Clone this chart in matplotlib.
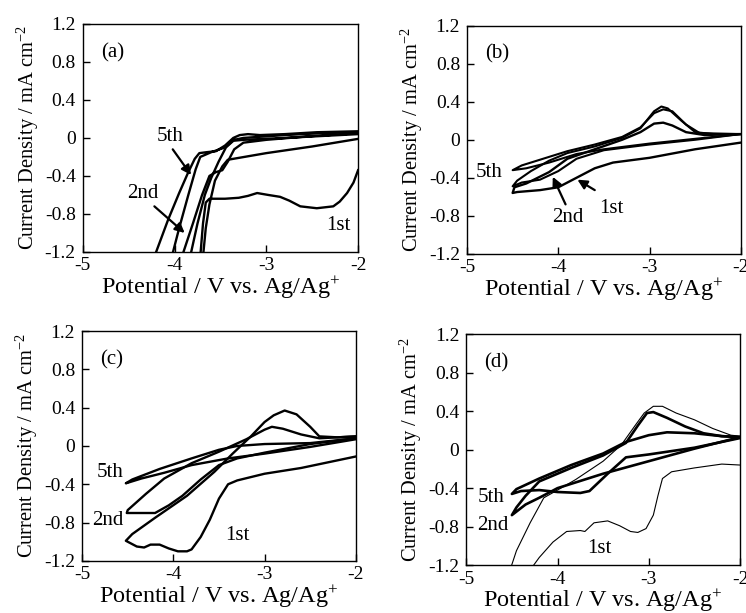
import numpy as np
import matplotlib
matplotlib.use("Agg")
import matplotlib.pyplot as plt
from matplotlib.ticker import FixedLocator, FuncFormatter

plt.rcParams["font.family"] = ["Liberation Serif", "DejaVu Serif"]
plt.rcParams["mathtext.fontset"] = "custom"
plt.rcParams["mathtext.rm"] = "Liberation Serif"
plt.rcParams["mathtext.it"] = "Liberation Serif:italic"
plt.rcParams["axes.unicode_minus"] = False

# cyclic voltammograms, (potential / V, current density / mA cm-2)
# panel (a)
a_1st = [(-2.0, -0.34), (-2.05, -0.47), (-2.12, -0.58), (-2.2, -0.67), (-2.27, -0.72),
         (-2.45, -0.74), (-2.63, -0.72), (-2.75, -0.66), (-2.85, -0.62), (-2.98, -0.6),
         (-3.1, -0.58), (-3.2, -0.61), (-3.3, -0.63), (-3.45, -0.64), (-3.62, -0.64),
         (-3.66, -0.68), (-3.69, -0.9), (-3.72, -1.25),
         (-3.69, -1.25), (-3.66, -0.95), (-3.62, -0.7), (-3.56, -0.45), (-3.48, -0.3),
         (-3.42, -0.23), (-3.0, -0.16), (-2.5, -0.09), (-2.0, -0.01)]
a_2nd = [(-2.0, 0.05), (-2.5, 0.02), (-3.0, -0.02), (-3.25, -0.05), (-3.35, -0.12),
         (-3.42, -0.25), (-3.48, -0.34), (-3.55, -0.36), (-3.62, -0.4), (-3.7, -0.6),
         (-3.8, -0.9), (-3.92, -1.25),
         (-3.83, -1.25), (-3.75, -0.9), (-3.67, -0.6), (-3.6, -0.42), (-3.52, -0.25),
         (-3.44, -0.1), (-3.36, -0.03), (-3.25, -0.02), (-2.8, 0.0), (-2.4, 0.02), (-2.0, 0.04)]
a_5th = [(-2.0, 0.07), (-2.45, 0.06), (-2.8, 0.04), (-3.07, 0.03), (-3.2, 0.04),
         (-3.29, 0.03), (-3.36, 0.0), (-3.45, -0.08), (-3.55, -0.14), (-3.65, -0.15),
         (-3.73, -0.16), (-3.78, -0.22), (-3.85, -0.36), (-3.95, -0.58), (-4.07, -0.86),
         (-4.22, -1.25),
         (-4.03, -1.25), (-3.95, -0.95), (-3.85, -0.6), (-3.77, -0.33), (-3.72, -0.2),
         (-3.6, -0.15), (-3.45, -0.1), (-3.35, -0.02), (-3.25, 0.0), (-2.8, 0.03),
         (-2.4, 0.05), (-2.0, 0.06)]

# panel (b)
b_1st = [(-2.0, -0.03), (-2.5, -0.1), (-3.0, -0.19), (-3.4, -0.24), (-3.6, -0.3),
         (-3.8, -0.4), (-4.0, -0.5), (-4.2, -0.53), (-4.45, -0.55), (-4.5, -0.56),
         (-4.48, -0.5), (-4.35, -0.46), (-4.1, -0.34), (-3.9, -0.2), (-3.6, -0.1),
         (-3.3, 0.0), (-3.1, 0.08), (-2.95, 0.17), (-2.85, 0.18), (-2.75, 0.15),
         (-2.6, 0.08), (-2.4, 0.05), (-2.0, 0.06)]
b_2nd = [(-2.0, 0.06), (-2.5, 0.0), (-3.0, -0.05), (-3.5, -0.11), (-3.8, -0.2),
         (-4.0, -0.33), (-4.2, -0.42), (-4.4, -0.45), (-4.5, -0.49),
         (-4.45, -0.43), (-4.3, -0.33), (-4.1, -0.22), (-3.9, -0.14), (-3.6, -0.07),
         (-3.3, 0.02), (-3.1, 0.12), (-2.95, 0.3), (-2.87, 0.35), (-2.8, 0.33),
         (-2.65, 0.2), (-2.5, 0.08), (-2.3, 0.06), (-2.0, 0.06)]
b_5th = [(-2.0, 0.06), (-2.5, 0.01), (-3.0, -0.04), (-3.5, -0.1), (-3.8, -0.15),
         (-4.1, -0.24), (-4.35, -0.3), (-4.5, -0.32),
         (-4.4, -0.27), (-4.2, -0.21), (-3.9, -0.12), (-3.6, -0.05), (-3.3, 0.03),
         (-3.1, 0.13), (-2.95, 0.28), (-2.85, 0.32), (-2.75, 0.3), (-2.6, 0.16),
         (-2.45, 0.07), (-2.0, 0.06)]

# panel (c)
c_1st = [(-2.0, -0.11), (-2.3, -0.17), (-2.6, -0.23), (-3.0, -0.29), (-3.3, -0.36),
         (-3.4, -0.4), (-3.5, -0.55), (-3.6, -0.77), (-3.7, -0.95), (-3.8, -1.08),
         (-3.85, -1.1), (-3.95, -1.1), (-4.05, -1.07), (-4.15, -1.03), (-4.25, -1.03),
         (-4.32, -1.06), (-4.4, -1.05), (-4.48, -1.01), (-4.52, -0.99),
         (-4.45, -0.92), (-4.2, -0.75), (-3.85, -0.52), (-3.55, -0.27), (-3.35, -0.08),
         (-3.15, 0.1), (-3.0, 0.25), (-2.9, 0.32), (-2.78, 0.37), (-2.65, 0.33),
         (-2.5, 0.2), (-2.4, 0.1), (-2.2, 0.09), (-2.0, 0.1)]
c_2nd = [(-2.0, 0.08), (-2.5, 0.02), (-3.0, -0.07), (-3.3, -0.13), (-3.5, -0.2),
         (-3.7, -0.35), (-3.9, -0.52), (-4.05, -0.62), (-4.2, -0.7), (-4.51, -0.7),
         (-4.5, -0.67), (-4.3, -0.5), (-4.1, -0.34), (-3.8, -0.18), (-3.5, -0.06),
         (-3.2, 0.07), (-3.0, 0.17), (-2.92, 0.2), (-2.8, 0.18), (-2.6, 0.12),
         (-2.4, 0.08), (-2.0, 0.1)]
c_5th = [(-2.0, 0.07), (-2.5, -0.01), (-3.0, -0.08), (-3.4, -0.13), (-3.8, -0.2),
         (-4.1, -0.28), (-4.35, -0.34), (-4.52, -0.39),
         (-4.45, -0.35), (-4.15, -0.24), (-3.8, -0.13), (-3.5, -0.04), (-3.3, 0.0),
         (-3.0, 0.02), (-2.5, 0.03), (-2.0, 0.08)]

# panel (d)
d_1st = [(-2.0, -0.16), (-2.2, -0.15), (-2.5, -0.19), (-2.75, -0.23), (-2.85, -0.3),
         (-2.9, -0.48), (-2.95, -0.68), (-3.03, -0.82), (-3.12, -0.86), (-3.2, -0.85),
         (-3.32, -0.79), (-3.45, -0.74), (-3.6, -0.76), (-3.7, -0.85), (-3.75, -0.84),
         (-3.9, -0.85), (-4.05, -0.96), (-4.2, -1.12), (-4.3, -1.25),
         (-4.52, -1.25), (-4.45, -1.05), (-4.3, -0.76), (-4.15, -0.5), (-4.0, -0.42),
         (-3.8, -0.31), (-3.5, -0.12), (-3.3, 0.05), (-3.15, 0.25), (-3.05, 0.38),
         (-2.95, 0.45), (-2.85, 0.45), (-2.7, 0.38), (-2.5, 0.31), (-2.3, 0.22),
         (-2.1, 0.15), (-2.0, 0.14)]
d_2nd = [(-2.0, 0.13), (-2.5, 0.01), (-3.0, -0.12), (-3.5, -0.25), (-3.8, -0.34),
         (-4.0, -0.4), (-4.2, -0.5), (-4.35, -0.57), (-4.5, -0.68),
         (-4.45, -0.6), (-4.35, -0.48), (-4.2, -0.33), (-3.85, -0.19), (-3.5, -0.06),
         (-3.25, 0.07), (-3.12, 0.25), (-3.02, 0.38), (-2.95, 0.39), (-2.8, 0.33),
         (-2.6, 0.24), (-2.4, 0.17), (-2.2, 0.14), (-2.0, 0.13)]
d_5th = [(-2.0, 0.12), (-2.5, 0.02), (-3.0, -0.05), (-3.25, -0.08), (-3.45, -0.25),
         (-3.65, -0.43), (-3.75, -0.45), (-4.0, -0.44), (-4.2, -0.42), (-4.4, -0.43),
         (-4.5, -0.46),
         (-4.45, -0.41), (-4.2, -0.3), (-3.85, -0.16), (-3.5, -0.04), (-3.25, 0.08),
         (-3.0, 0.15), (-2.8, 0.18), (-2.5, 0.17), (-2.2, 0.14), (-2.0, 0.13)]

x_ticks = [-5, -4, -3, -2]
y_ticks = [-1.2, -0.8, -0.4, 0, 0.4, 0.8, 1.2]

# axes boxes in figure fractions
boxes = {
    "a": [0.111, 0.589, 0.369, 0.372],
    "b": [0.626, 0.586, 0.367, 0.372],
    "c": [0.110, 0.085, 0.367, 0.375],
    "d": [0.625, 0.078, 0.367, 0.377],
}

curves = {
    "a": [(a_1st, 1.7), (a_2nd, 1.7), (a_5th, 1.7)],
    "b": [(b_1st, 1.7), (b_2nd, 1.5), (b_5th, 1.5)],
    "c": [(c_1st, 1.7), (c_2nd, 1.7), (c_5th, 1.7)],
    "d": [(d_1st, 0.8), (d_2nd, 1.9), (d_5th, 1.9)],
}

# (text, text position, arrow start or None, arrow tip or None)
notes = {
    "a": [("5th", (-4.05, 0.02), (-4.02, -0.12), (-3.82, -0.39)),
          ("2nd", (-4.35, -0.58), (-4.22, -0.72), (-3.89, -1.0)),
          ("1st", (-2.22, -0.92), None, None)],
    "b": [("5th", (-4.76, -0.34), None, None),
          ("2nd", (-3.9, -0.82), (-3.92, -0.68), (-4.06, -0.39)),
          ("1st", (-3.42, -0.72), (-3.6, -0.53), (-3.79, -0.42))],
    "c": [("5th", (-4.69, -0.28), None, None),
          ("2nd", (-4.72, -0.78), None, None),
          ("1st", (-3.3, -0.94), None, None)],
    "d": [("5th", (-4.73, -0.5), None, None),
          ("2nd", (-4.71, -0.79), None, None),
          ("1st", (-3.54, -1.03), None, None)],
}


def tick_text(v, pos):
    if abs(v) < 1e-9:
        return "0"
    if float(v).is_integer() and abs(v) >= 2:
        return "%d" % v
    return "%.1f" % v


fig = plt.figure(figsize=(7.46, 6.13), dpi=100)

for key in ["a", "b", "c", "d"]:
    ax = fig.add_axes(boxes[key])
    for curve, lw in curves[key]:
        v, i = np.array(curve).T
        ax.plot(v, i, color="black", lw=lw, solid_joinstyle="round")
    ax.set_xlim(-5, -2)
    ax.set_ylim(-1.2, 1.2)
    ax.xaxis.set_major_locator(FixedLocator(x_ticks))
    ax.yaxis.set_major_locator(FixedLocator(y_ticks))
    ax.xaxis.set_major_formatter(FuncFormatter(tick_text))
    ax.yaxis.set_major_formatter(FuncFormatter(tick_text))
    ax.tick_params(direction="in", length=5, width=1, labelsize=14, pad=5)
    ax.tick_params(axis="x", pad=4)
    for s in ax.spines.values():
        s.set_linewidth(1.0)
    ax.set_xlabel("Potential / V vs. Ag/Ag$^{+}$", fontsize=17.5, labelpad=0)
    ax.set_ylabel("Current Density / mA cm$^{-2}$", fontsize=14.8, labelpad=3)
    ax.text(-4.8, 0.9, "(%s)" % key, fontsize=15, va="center", ha="left")
    for label, xy_text, xy_start, xy_tip in notes[key]:
        ax.text(xy_text[0], xy_text[1], label, fontsize=15, ha="center", va="center")
        if xy_tip is not None:
            ax.annotate("", xy=xy_tip, xytext=xy_start,
                        arrowprops=dict(arrowstyle="-|>", color="black", lw=1.6,
                                        mutation_scale=14, shrinkA=0, shrinkB=0))

fig.savefig("out.png", dpi=100)
